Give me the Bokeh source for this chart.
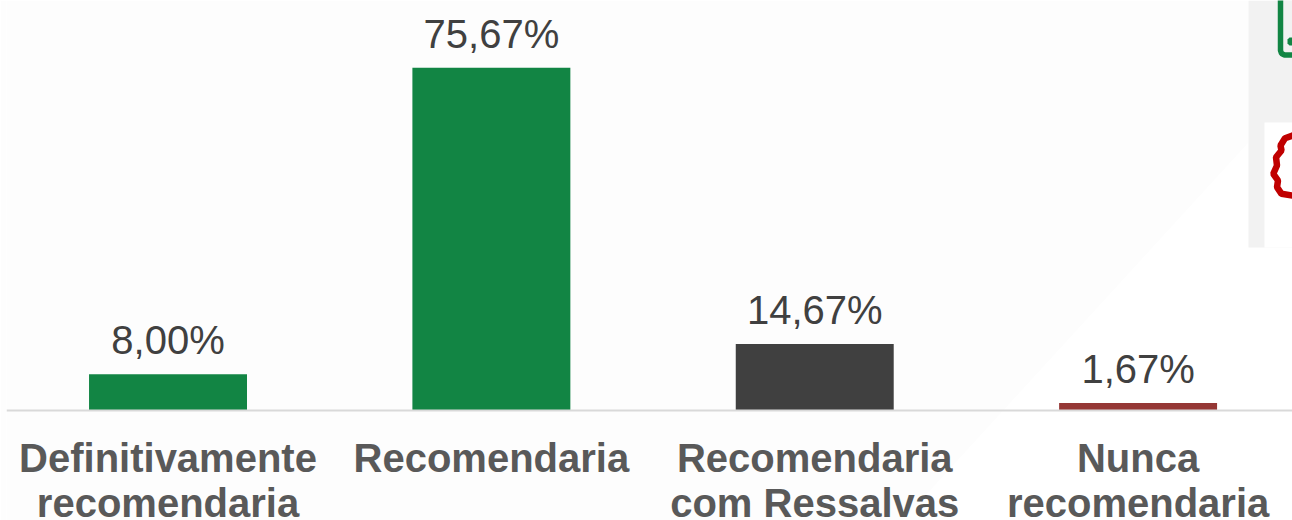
from bokeh.plotting import figure
from bokeh.models import ColumnDataSource, FixedTicker, Range1d, BoxAnnotation, PolyAnnotation
from bokeh.core.properties import value
from bokeh.embed import file_html
from bokeh.resources import INLINE

categories = ["Definitivamente\nrecomendaria", "Recomendaria", "Recomendaria\ncom Ressalvas", "Nunca\nrecomendaria"]
values = [8.00, 75.67, 14.67, 1.67]
value_labels = ["8,00%", "75,67%", "14,67%", "1,67%"]
colors = ["#128544", "#128544", "#404040", "#953735"]
positions = [0, 1, 2, 3]

FONT = "Liberation Sans"
src = ColumnDataSource(dict(x=positions, top=values, label=value_labels, color=colors))

p = figure(width=1292, height=520, output_backend="svg", toolbar_location=None,
           x_range=Range1d(-0.4995, 3.4775), y_range=Range1d(-24.28, 90.51),
           min_border_left=6, min_border_right=0, min_border_top=0, min_border_bottom=0,
           tools="", outline_line_color=None,
           background_fill_color=None, border_fill_color="#fdfdfd")
p.grid.visible = False
p.yaxis.visible = False


def sx(vals):
    return [v - 6 for v in vals]


def sy(vals):
    return [520 - v for v in vals]


def box(l, r, t, b, color):
    p.add_layout(BoxAnnotation(left=l - 6, right=r - 6, top=520 - t, bottom=520 - b,
                               left_units="screen", right_units="screen",
                               top_units="screen", bottom_units="screen",
                               fill_color=color, fill_alpha=1, line_color=None, level="underlay"))


def poly(xs, ys, fill, line=None, lw=1):
    p.add_layout(PolyAnnotation(xs=sx(xs), ys=sy(ys), xs_units="screen", ys_units="screen",
                                fill_color=fill, fill_alpha=1, line_color=line, line_alpha=1,
                                line_width=lw, level="underlay"))


# white area right of the diagonal, over the faint border tone
poly([6, 1292, 1292, 6], [0, 0, 520, 520], "white")
# faint wedge and side panel
poly([6, 1248, 1248, 902, 6], [0, 0, 142, 520, 520], "#fdfdfd")
box(1248, 1292, 0, 247, "#f2f2f2")
box(1264, 1292, 122, 247, "white")
poly([1280, 1280, 1281, 1284, 1298, 1298, 1280], [-6, 50, 53, 54.5, 54.5, -6, -6], "#f2f2f2", "#128544", 5.5)
poly([1287, 1289, 1292, 1295, 1295, 1292, 1289, 1287], [39, 37, 37, 39, 43, 45, 45, 43], "#128544")
poly([1298, 1292, 1284.5, 1280, 1281, 1275.5, 1276.5, 1272.8, 1277.5, 1276.5, 1281, 1292, 1298],
     [135, 135, 137.7, 145, 150, 156.7, 165, 173.3, 180, 186.7, 193.3, 195, 195], "white", "#c00000", 6.5)

p.vbar(x="x", top="top", bottom=0, width=0.4885, fill_color="color", line_color=None, source=src)
p.text(x="x", y="top", text="label", source=src, text_align="center", text_baseline="alphabetic",
       y_offset=-34, text_color="#404040", text_font=value(FONT), text_font_size="40px")

ax = p.xaxis[0]
ax.fixed_location = 0
ax.ticker = FixedTicker(ticks=positions)
ax.major_label_overrides = {i: c for i, c in zip(positions, categories)}
ax.major_tick_line_color = None
ax.minor_tick_line_color = None
ax.axis_line_color = "#D9D9D9"
ax.axis_line_width = 2
ax.major_label_text_font = FONT
ax.major_label_text_font_style = "bold"
ax.major_label_text_font_size = "40px"
ax.major_label_text_line_height = 1.03
ax.major_label_text_color = "#595959"
ax.major_label_standoff = 19
ax.major_label_orientation = "horizontal"

open("out.html", "w").write(file_html(p, INLINE))
